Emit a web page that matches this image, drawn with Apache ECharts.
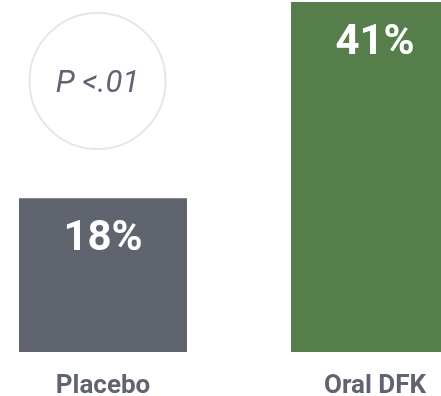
<!DOCTYPE html>
<html>
<head>
<meta charset="utf-8">
<script src="https://cdn.jsdelivr.net/npm/echarts@6/dist/echarts.min.js"></script>
<style>
  html, body { margin: 0; padding: 0; background: #ffffff; }
  #chart { width: 441px; height: 396px; }
</style>
</head>
<body>
<div id="chart"></div>
<script>
// Response rates by treatment group (%)
const categories = ['Placebo', 'Oral DFK'];
const responseRates = [18, 41];
const barColors = ['#60646f', '#557e4b'];
const pValueText = 'P <.01';

const chart = echarts.init(document.getElementById('chart'), null, { renderer: 'canvas' });

chart.setOption({
  animation: false,
  // category ticks sit on the grid edges; bars are wider than the margins and run past them
  grid: {
    left: 103, right: 66, top: 2, bottom: 44,
    containLabel: false,
    outerBoundsMode: 'none'
  },
  xAxis: {
    type: 'category',
    data: categories,
    boundaryGap: false,
    axisLine: { show: false },
    axisTick: { show: false },
    splitLine: { show: false },
    axisLabel: {
      margin: 21,
      fontFamily: 'Roboto',
      fontWeight: 'bold',
      fontSize: 26,
      color: '#5f6470'
    }
  },
  yAxis: {
    type: 'value',
    min: 0,
    max: 41,
    show: false,
    splitLine: { show: false }
  },
  series: [{
    type: 'bar',
    barWidth: 168,
    clip: false,
    data: responseRates.map((v, i) => ({ value: v, itemStyle: { color: barColors[i] } })),
    label: {
      show: true,
      position: 'insideTop',
      distance: 20,
      formatter: '{c}%',
      fontFamily: 'Roboto',
      fontWeight: 'bold',
      fontSize: 42,
      color: '#ffffff'
    }
  }],
  graphic: [{
    type: 'circle',
    shape: { cx: 97.5, cy: 81, r: 68 },
    style: { fill: '#ffffff', stroke: '#e6e6e6', lineWidth: 2 },
    silent: true
  }, {
    type: 'text',
    x: 97.5,
    y: 84,
    style: {
      text: pValueText,
      align: 'center',
      verticalAlign: 'middle',
      fontFamily: 'Roboto',
      fontStyle: 'italic',
      fontSize: 31,
      fill: '#5f6470'
    },
    silent: true
  }]
});
</script>
</body>
</html>
